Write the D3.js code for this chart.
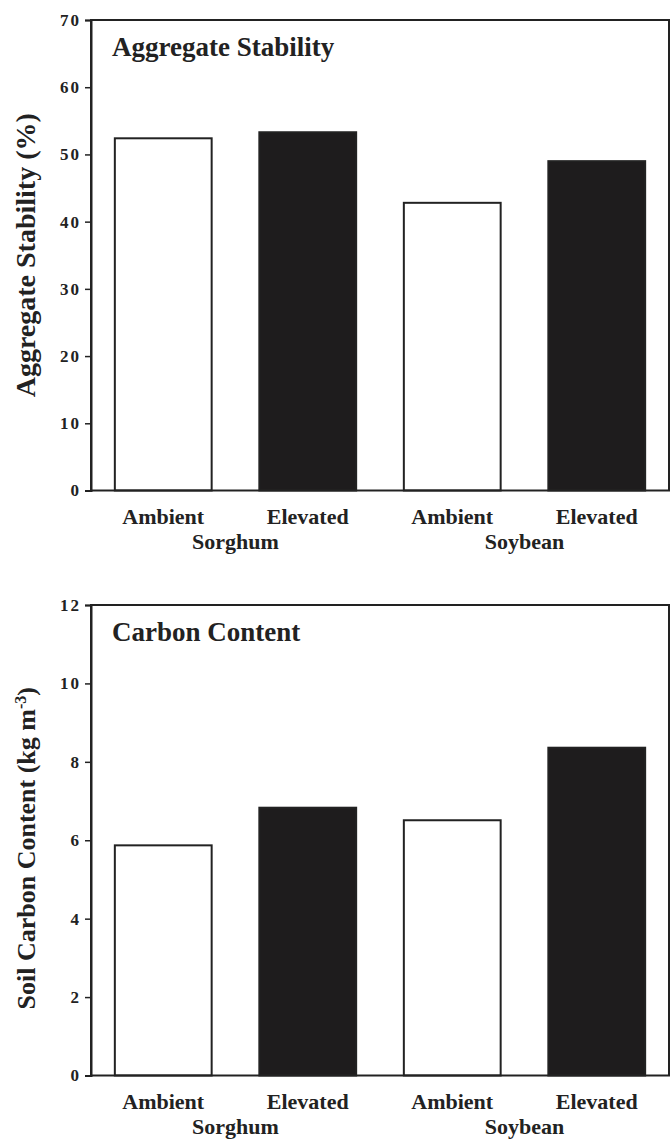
<!DOCTYPE html>
<html>
<head>
<meta charset="utf-8">
<script src="https://cdn.jsdelivr.net/npm/d3@7"></script>
<style>
  html, body { margin: 0; padding: 0; background: #fff; }
  svg { display: block; }
  text { font-family: "Liberation Serif", "Times New Roman", serif; font-weight: bold; fill: #222; }
</style>
</head>
<body>
<svg id="chart" width="671" height="1148"></svg>
<script>
// Treatment labels along the x axis, and the crop groups beneath them
const treatments = ["Ambient", "Elevated", "Ambient", "Elevated"];
const crops = ["Sorghum", "Soybean"];
const barKeys = ["sorghum-ambient", "sorghum-elevated", "soybean-ambient", "soybean-elevated"];
const barFill = ["white", "black", "white", "black"];

// Aggregate stability (%)
const stabilityValues = [52.4, 53.3, 42.8, 49.0];
const stabilityTicks = [0, 10, 20, 30, 40, 50, 60, 70];

// Soil carbon content (kg m-3)
const carbonValues = [5.87, 6.83, 6.51, 8.36];
const carbonTicks = [0, 2, 4, 6, 8, 10, 12];

const svg = d3.select("#chart");
const ink = "#222";

function drawPanel(opts) {
  const { top, bottom, left, right, values, ticks, yMax, title, yTitle, yTitleSize, yTitleShift } = opts;
  const g = svg.append("g");

  const x = d3.scaleBand().domain(barKeys).range([left, right]).paddingInner(0.33).paddingOuter(0.165);
  const y = d3.scaleLinear().domain([0, yMax]).range([bottom, top]);

  // bars
  g.selectAll("rect.bar")
    .data(values)
    .join("rect")
    .attr("class", "bar")
    .attr("x", (d, i) => x(barKeys[i]))
    .attr("width", x.bandwidth())
    .attr("y", d => y(d))
    .attr("height", d => y(0) - y(d))
    .attr("fill", (d, i) => barFill[i] === "black" ? "#1e1c1d" : "#fff")
    .attr("stroke", ink)
    .attr("stroke-width", 2);

  // frame
  g.append("rect")
    .attr("x", left).attr("y", top)
    .attr("width", right - left).attr("height", bottom - top)
    .attr("fill", "none").attr("stroke", ink).attr("stroke-width", 2);

  // y axis
  const yAxis = d3.axisLeft(y).tickValues(ticks).tickSize(6).tickPadding(4).tickFormat(d3.format("d"));
  const ax = g.append("g").attr("transform", `translate(${left},0)`).call(yAxis);
  ax.select(".domain").attr("stroke", ink).attr("stroke-width", 2);
  ax.selectAll(".tick line").attr("stroke", ink).attr("stroke-width", 1.5);
  ax.selectAll(".tick text").attr("font-size", 17).attr("fill", ink)
    .attr("letter-spacing", 2)
    .style("font-family", '"Liberation Serif", serif').style("font-weight", "bold");

  // x category labels
  g.selectAll("text.treat")
    .data(treatments)
    .join("text")
    .attr("class", "treat")
    .attr("x", (d, i) => x(barKeys[i]) + x.bandwidth() / 2)
    .attr("y", bottom + 33)
    .attr("text-anchor", "middle")
    .attr("font-size", 22)
    .text(d => d);

  g.selectAll("text.crop")
    .data(crops)
    .join("text")
    .attr("class", "crop")
    .attr("x", (d, i) => (x(barKeys[i * 2]) + x(barKeys[i * 2 + 1]) + x.bandwidth()) / 2)
    .attr("y", bottom + 58)
    .attr("text-anchor", "middle")
    .attr("font-size", 22)
    .text(d => d);

  // panel title
  g.append("text")
    .attr("x", left + 21)
    .attr("y", top + 36)
    .attr("font-size", 27)
    .text(title);

  // y axis title
  const yt = g.append("text")
    .attr("transform", `translate(${left - 56},${(top + bottom) / 2 + yTitleShift}) rotate(-90)`)
    .attr("text-anchor", "middle")
    .attr("font-size", yTitleSize);
  yTitle(yt);
}

drawPanel({
  top: 20, bottom: 490.5, left: 91, right: 669,
  values: stabilityValues, ticks: stabilityTicks, yMax: 70,
  title: "Aggregate Stability",
  yTitleSize: 28, yTitleShift: 0,
  yTitle: t => t.text("Aggregate Stability (%)")
});

drawPanel({
  top: 605, bottom: 1075.5, left: 91, right: 669,
  values: carbonValues, ticks: carbonTicks, yMax: 12,
  title: "Carbon Content",
  yTitleSize: 26, yTitleShift: 8,
  yTitle: t => {
    t.append("tspan").text("Soil Carbon Content (kg m");
    t.append("tspan").attr("dy", -9).attr("font-size", 16).text("-3");
    t.append("tspan").attr("dy", 9).text(")");
  }
});
</script>
</body>
</html>
